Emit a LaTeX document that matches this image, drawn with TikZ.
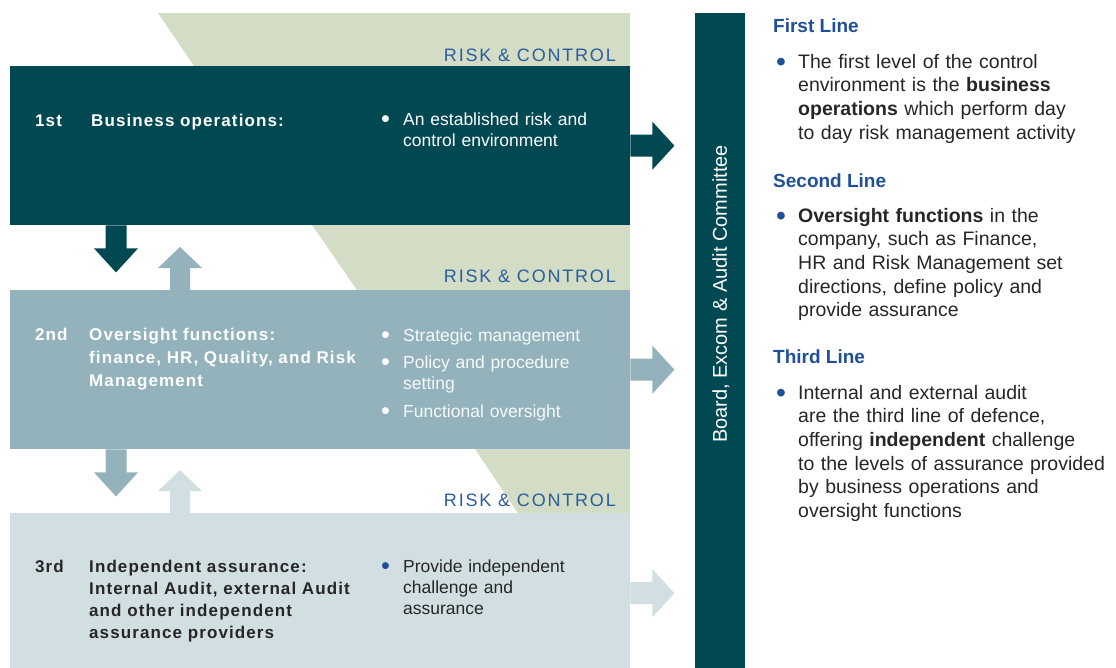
\documentclass[tikz,border=0pt]{standalone}
\usepackage{fontspec}
\usepackage{graphicx}
\setmainfont{Liberation Sans}
\usetikzlibrary{calc}

\definecolor{lvlone}{HTML}{004852}
\definecolor{lvltwo}{HTML}{93B2BC}
\definecolor{lvlthree}{HTML}{D1DFE3}
\definecolor{sage}{HTML}{D3DCC5}
\definecolor{rcblue}{HTML}{2B5C9E}
\definecolor{headblue}{HTML}{1F4F96}
\definecolor{bodygrey}{HTML}{262626}

% bullet paragraph: #1 indent, #2 bullet colour, #3 lines
\newcommand{\bitem}[3][19pt]{\noindent\makebox[#1][l]{\color{#2}\raisebox{-0.16em}{\scalebox{1.45}{\textbullet}}}%
 \begin{tabular}[t]{@{}l@{}}#3\end{tabular}\par}

\tikzset{
  lvlbox/.style={anchor=north west, minimum width=620, minimum height=159, inner sep=0pt},
  rctext/.style={anchor=base east, inner sep=0pt, text=rcblue,
    font={\fontsize{18}{20}\selectfont\addfontfeatures{LetterSpace=10}}},
  lvlnum/.style={anchor=base west, inner sep=0pt,
    font={\fontsize{17}{22}\selectfont\bfseries\addfontfeatures{LetterSpace=6.5}}},
  lvllabel/.style={lvlnum, text width=280, align=left},
  lvlpoints/.style={anchor=base west, inner sep=0pt, text width=240, align=left,
    font={\fontsize{17.5}{21}\selectfont}},
  headline/.style={anchor=base west, inner sep=0pt, text=headblue,
    font={\fontsize{19}{22}\selectfont\bfseries}},
  sidetext/.style={anchor=base west, inner sep=0pt, text width=345, align=left, text=bodygrey,
    font={\fontsize{19.5}{23.7}\selectfont}}
}

\begin{document}
\begin{tikzpicture}[x=1pt, y=-1pt]
\useasboundingbox (0,0) rectangle (1116,667);

% risk & control bands
\fill[sage] (158,13) -- (630,13) -- (630,66) -- (194,66) -- cycle;
\fill[sage] (312,225) -- (630,225) -- (630,290) -- (357,290) -- cycle;
\fill[sage] (475,449) -- (630,449) -- (630,513) -- (518,513) -- cycle;
\node[rctext] (rc1) at (616,61.5) {RISK \& CONTROL};
\node[rctext] (rc2) at (616,282.5) {RISK \& CONTROL};
\node[rctext] (rc3) at (616,506.5) {RISK \& CONTROL};

% the three levels
\node[lvlbox, fill=lvlone] (ops) at (10,66) {};
\node[lvlbox, fill=lvltwo] (ovs) at (10,290) {};
\node[lvlbox, fill=lvlthree, minimum height=160] (ind) at (10,513) {};

% board bar
\node[anchor=north west, minimum width=50, minimum height=660, inner sep=0pt, fill=lvlone] (board) at (695,13) {};
\node[rotate=90, inner sep=0pt, text=white, font={\fontsize{20}{22}\selectfont}] (boardtxt) at (721,294) {Board, Excom \& Audit Committee};

% arrows to the board
\foreach \b/\c in {ops/lvlone, ovs/lvltwo, ind/lvlthree} {
 \fill[\c] ($(\b.east)+(0,-11)$) -- ++(22,0) -- ++(0,-13) -- ++(22,24) -- ++(-22,24) -- ++(0,-13) -- ++(-22,0) -- cycle;
}

% arrows between levels
\foreach \a/\c in {ops/lvlone, ovs/lvltwo} {
 \fill[\c] ($(\a.south west)+(95.5,0)$) -- ++(0,23) -- ++(-11.5,0) -- ++(22,24) -- ++(22,-24) -- ++(-11.5,0) -- ++(0,-23) -- cycle;
}
\foreach \a/\c in {ovs/lvltwo, ind/lvlthree} {
 \fill[\c] ($(\a.north west)+(160,0)$) -- ++(0,-22) -- ++(-12,0) -- ++(22,-21) -- ++(22,21) -- ++(-12,0) -- ++(0,22) -- cycle;
}

% level texts
\node[lvlnum, text=white] (opsnum) at (35,126) {1st};
\node[lvllabel, text=white] (opslbl) at (91,126) {Business operations:};
\node[lvlpoints, text=white] (opspts) at (381,125) {\bitem[22pt]{white}{An established risk and\\ control environment}};

\node[lvlnum, text=white] (ovsnum) at (35,340) {2nd};
\node[lvllabel, text=white, font={\fontsize{17}{23}\selectfont\bfseries\addfontfeatures{LetterSpace=6.5}}] (ovslbl) at (89,340)
 {Oversight functions:\\ finance, HR, Quality, and Risk\\ Management};
\node[lvlpoints, text=white!93!lvltwo] (ovspts) at (381,341) {\setlength{\parskip}{6pt}%
 \bitem[22pt]{white}{Strategic management}\bitem[22pt]{white}{Policy and procedure\\ setting}\bitem[22pt]{white}{Functional oversight}};

\node[lvlnum, text=bodygrey] (indnum) at (35,572) {3rd};
\node[lvllabel, text=bodygrey] (indlbl) at (89,572)
 {Independent assurance:\\ Internal Audit, external Audit\\ and other independent\\ assurance providers};
\node[lvlpoints, text=bodygrey] (indpts) at (381,572) {\bitem[22pt]{headblue}{Provide independent\\ challenge and\\ assurance}};

% the three lines of defence
\node[headline] (first) at (773,32) {First Line};
\node[sidetext] (firsttxt) at (776,68) {\bitem[22pt]{headblue}{The first level of the control\\ environment is the \textbf{business}\\ \textbf{operations} which perform day\\ to day risk management activity}};
\node[headline] (second) at (773,187) {Second Line};
\node[sidetext] (secondtxt) at (776,222) {\bitem[22pt]{headblue}{\textbf{Oversight functions} in the\\ company, such as Finance,\\ HR and Risk Management set\\ directions, define policy and\\ provide assurance}};
\node[headline] (third) at (773,363) {Third Line};
\node[sidetext] (thirdtxt) at (776,399) {\bitem[22pt]{headblue}{Internal and external audit\\ are the third line of defence,\\ offering \textbf{independent} challenge\\ to the levels of assurance provided\\ by business operations and\\ oversight functions}};
\end{tikzpicture}
\end{document}
